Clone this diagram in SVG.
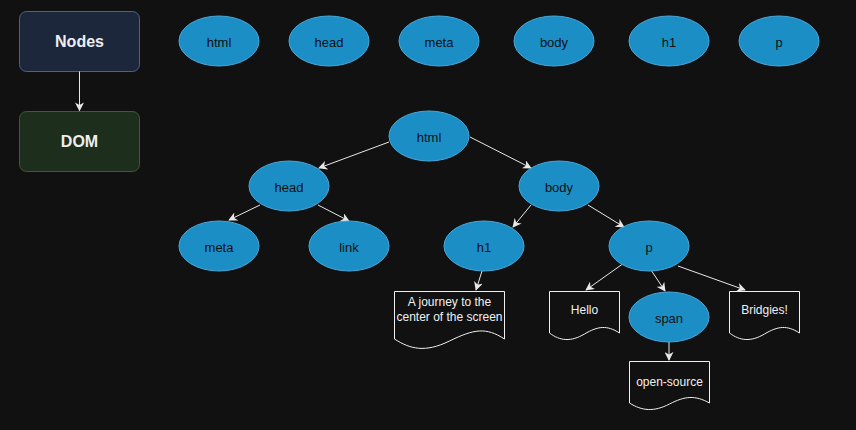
<svg xmlns="http://www.w3.org/2000/svg" width="856" height="430" viewBox="0 0 856 430">
<defs>
<style>
.el{fill:#1b8ec6;stroke:#4ba7d9;stroke-width:1}
.et{font-family:"Liberation Sans",Arial,sans-serif;font-size:13px;fill:#111;text-anchor:middle;dominant-baseline:central}
.dt{font-family:"Liberation Sans",Arial,sans-serif;font-size:12px;fill:#f0f0f0;text-anchor:middle;dominant-baseline:central}
.doc{fill:#111111;stroke:#f0f0f0;stroke-width:1}
.bt{font-family:"Liberation Sans",Arial,sans-serif;font-size:16px;font-weight:bold;fill:#eeeeee;text-anchor:middle;dominant-baseline:central}
.cn{stroke:#e8e8e8;stroke-width:1;fill:none;marker-end:url(#ah)}
</style>
<marker id="ah" viewBox="0 0 10 10" refX="9" refY="5" markerWidth="9" markerHeight="9" markerUnits="userSpaceOnUse" orient="auto">
<path d="M0,0 L10,5 L0,10 L3,5 Z" fill="#e8e8e8"/>
</marker>
</defs>
<rect width="856" height="430" fill="#111111"/>

<g id="nodes-box"><rect x="19.5" y="11.5" width="120" height="60" rx="7" fill="#1c273b" stroke="#4d6384"/><text class="bt" x="79.5" y="41.5">Nodes</text></g>
<g id="dom-box"><rect x="19.5" y="111.5" width="120" height="60" rx="7" fill="#1e2e1d" stroke="#3f5b2f"/><text class="bt" x="79.5" y="141.5">DOM</text></g>

<g id="top-html"><ellipse class="el" cx="219" cy="41" rx="40" ry="25"/><text class="et" x="219" y="42">html</text></g>
<g id="top-head"><ellipse class="el" cx="329" cy="41" rx="40" ry="25"/><text class="et" x="329" y="42">head</text></g>
<g id="top-meta"><ellipse class="el" cx="439" cy="41" rx="40" ry="25"/><text class="et" x="439" y="42">meta</text></g>
<g id="top-body"><ellipse class="el" cx="554" cy="41" rx="40" ry="25"/><text class="et" x="554" y="42">body</text></g>
<g id="top-h1"><ellipse class="el" cx="669" cy="41" rx="40" ry="25"/><text class="et" x="669" y="42">h1</text></g>
<g id="top-p"><ellipse class="el" cx="779" cy="41" rx="40" ry="25"/><text class="et" x="779" y="42">p</text></g>

<g id="connectors">
<line class="cn" x1="79.5" y1="71.5" x2="79.5" y2="110.5"/>
<line class="cn" x1="389" y1="142" x2="319" y2="168"/>
<line class="cn" x1="470" y1="137" x2="531" y2="168"/>
<line class="cn" x1="260" y1="205" x2="229" y2="220"/>
<line class="cn" x1="318" y1="205" x2="349" y2="221"/>
<line class="cn" x1="531" y1="205" x2="513" y2="227"/>
<line class="cn" x1="588" y1="205" x2="624" y2="227"/>
<line class="cn" x1="482" y1="271" x2="476" y2="290"/>
<line class="cn" x1="624" y1="263" x2="586" y2="290"/>
<line class="cn" x1="651" y1="270" x2="665" y2="291"/>
<line class="cn" x1="678" y1="266" x2="745" y2="290"/>
<line class="cn" x1="669" y1="342" x2="669" y2="360"/>
</g>

<g id="tree-html"><ellipse class="el" cx="429" cy="136" rx="40" ry="25"/><text class="et" x="429" y="137">html</text></g>
<g id="tree-head"><ellipse class="el" cx="289" cy="186" rx="40" ry="25"/><text class="et" x="289" y="187">head</text></g>
<g id="tree-body"><ellipse class="el" cx="559" cy="186" rx="40" ry="25"/><text class="et" x="559" y="187">body</text></g>
<g id="tree-meta"><ellipse class="el" cx="219" cy="246" rx="40" ry="25"/><text class="et" x="219" y="247">meta</text></g>
<g id="tree-link"><ellipse class="el" cx="349" cy="246" rx="40" ry="25"/><text class="et" x="349" y="247">link</text></g>
<g id="tree-h1"><ellipse class="el" cx="484" cy="246" rx="40" ry="25"/><text class="et" x="484" y="247">h1</text></g>
<g id="tree-p"><ellipse class="el" cx="649" cy="246" rx="40" ry="25"/><text class="et" x="649" y="247">p</text></g>
<g id="tree-span"><ellipse class="el" cx="669" cy="317" rx="40" ry="25"/><text class="et" x="669" y="318">span</text></g>

<g id="doc-journey"><path class="doc" d="M394.5,291.5 H504.5 V339 C486,327 474,329 449.5,341 C425,353 410,349 394.5,339 Z"/><text class="dt" x="449.5" y="302">A journey to the</text><text class="dt" x="449.5" y="317">center of the screen</text></g>
<g id="doc-hello"><path class="doc" d="M549.5,291.5 H619.5 V333 C607,325 598,326 584.5,334 C571,342 560,341 549.5,333 Z"/><text class="dt" x="584.5" y="310">Hello</text></g>
<g id="doc-bridgies"><path class="doc" d="M729.5,291.5 H799.5 V333 C787,325 778,326 764.5,334 C751,342 740,341 729.5,333 Z"/><text class="dt" x="764.5" y="310">Bridgies!</text></g>
<g id="doc-open"><path class="doc" d="M629.5,361.5 H709.5 V403 C695,395 685,396 669.5,404 C654,412 642,411 629.5,403 Z"/><text class="dt" x="669.5" y="382">open-source</text></g>
</svg>
